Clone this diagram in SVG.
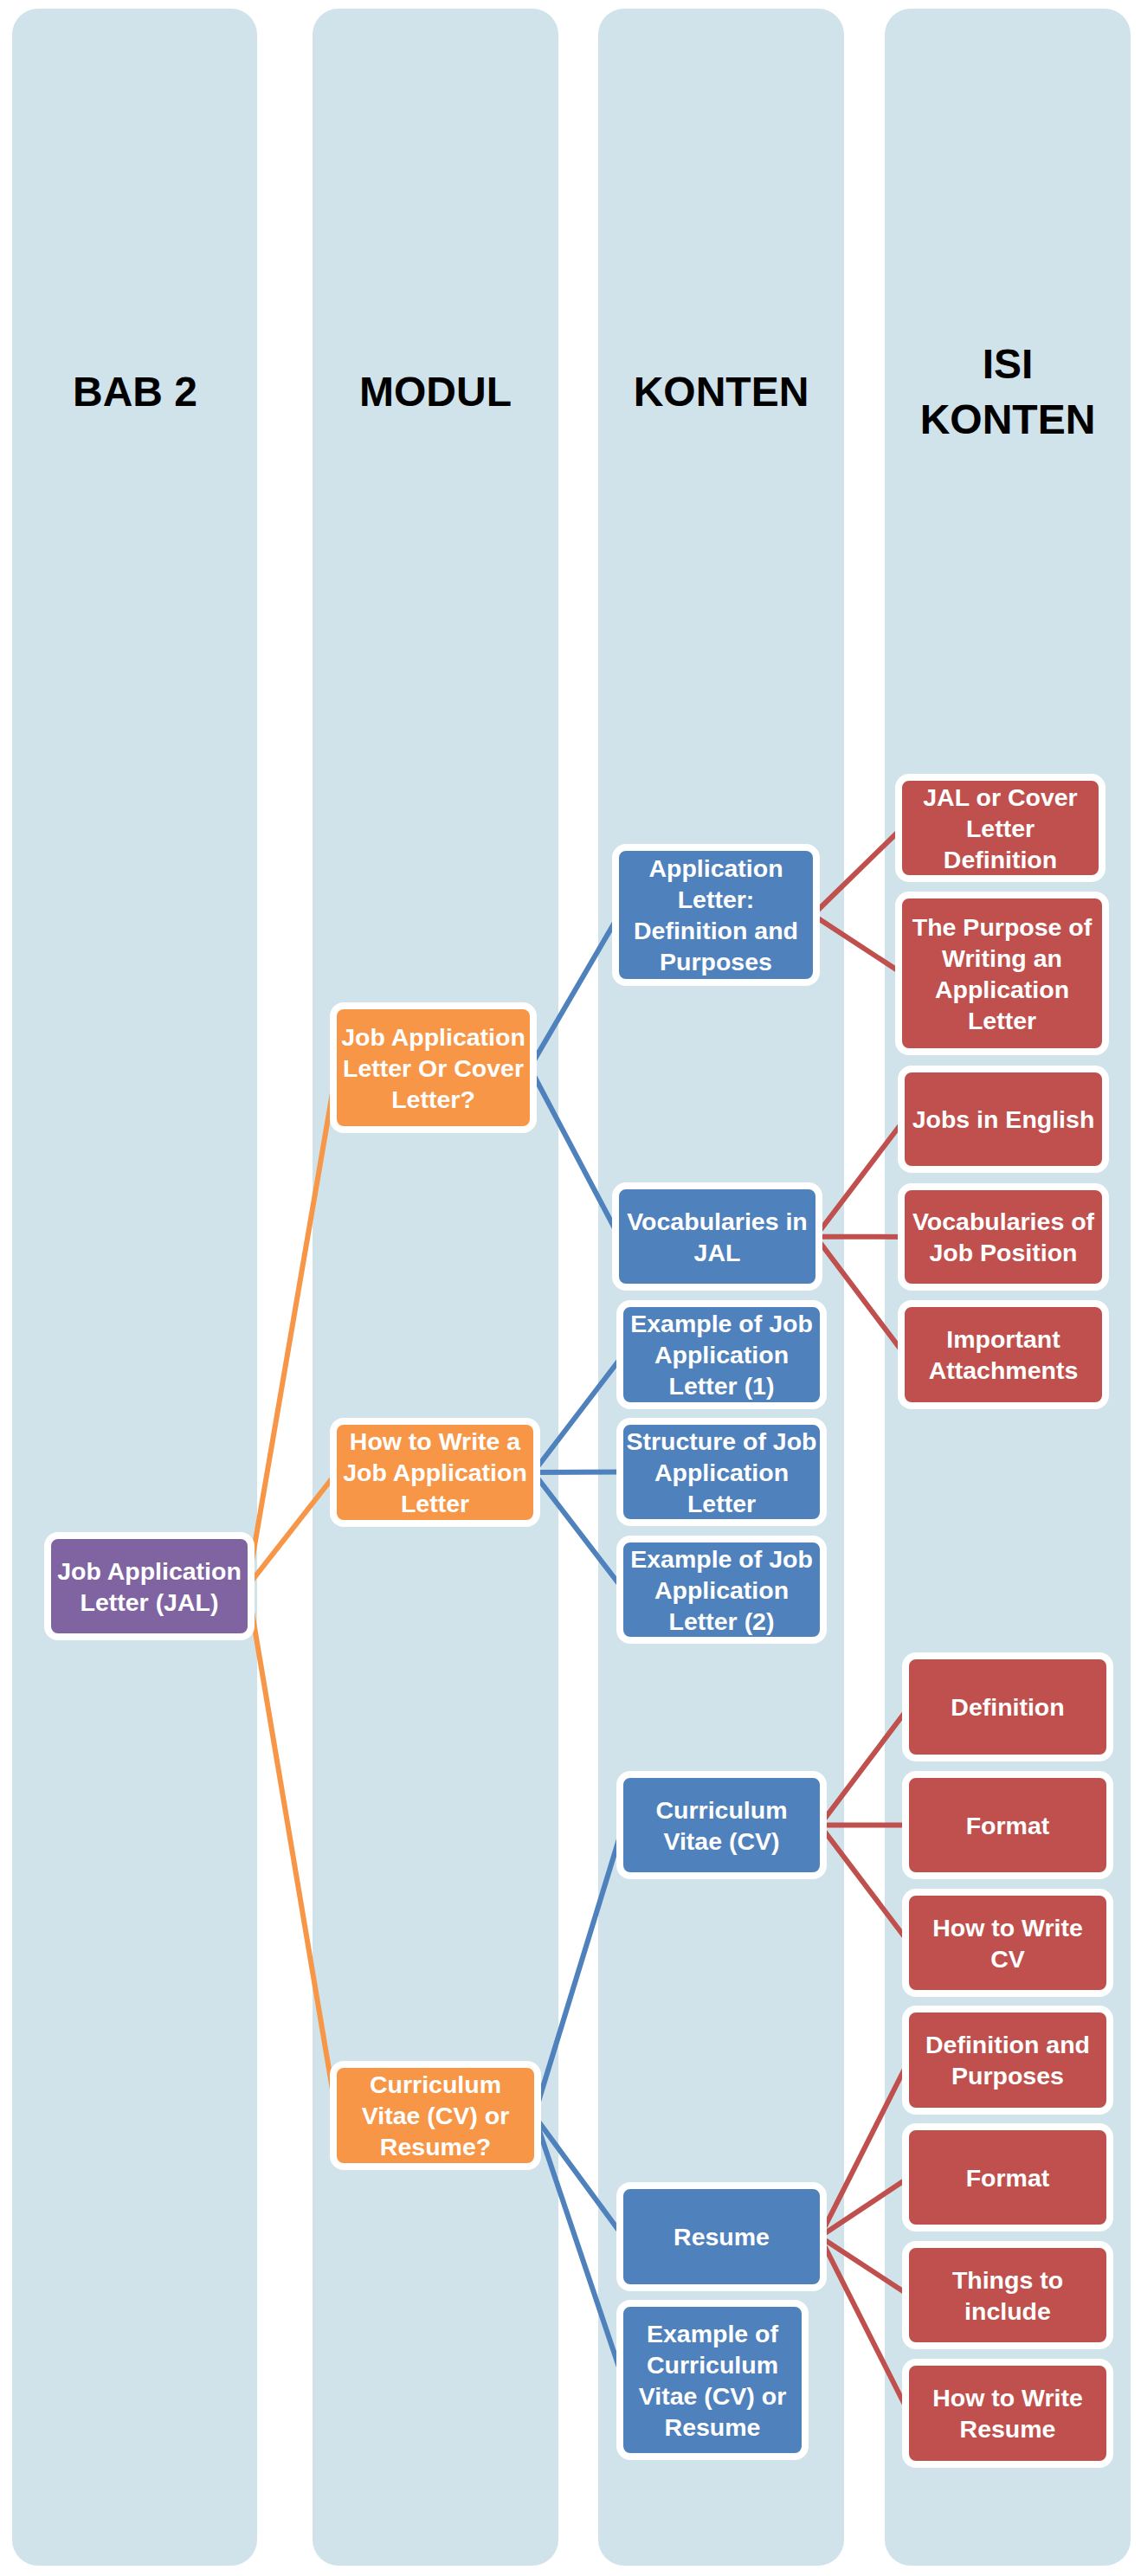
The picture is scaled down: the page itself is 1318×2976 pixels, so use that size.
<svg xmlns="http://www.w3.org/2000/svg" width="1318" height="2976" viewBox="0 0 1318 2976">
<style>
.col{fill:#D0E2EA}
.hdr{font-family:"Liberation Sans",Arial,sans-serif;font-weight:bold;font-size:48px;fill:#000;text-anchor:middle}
.nd rect{stroke:#fff;stroke-width:8}
.pu rect{fill:#8064A2}
.or rect{fill:#F79646}
.bl rect{fill:#4F81BD}
.rd rect{fill:#C0504D}
.nd text{font-family:"Liberation Sans",Arial,sans-serif;font-weight:bold;font-size:28.5px;fill:#fff;text-anchor:middle}
.c{fill:none;stroke-width:6;stroke-linecap:butt}
.co{stroke:#F79646}
.cb{stroke:#4F81BD}
.cr{stroke:#C0504D}
</style>
<rect width="1318" height="2976" fill="#fff"/>
<g id="columns">
<rect class="col" x="14" y="10" width="283" height="2954" rx="30"/>
<rect class="col" x="361" y="10" width="284" height="2954" rx="30"/>
<rect class="col" x="691" y="10" width="284" height="2954" rx="30"/>
<rect class="col" x="1022" y="10" width="284" height="2954" rx="30"/>
<text class="hdr" x="156" y="469">BAB 2</text>
<text class="hdr" x="503" y="469">MODUL</text>
<text class="hdr" x="833" y="469">KONTEN</text>
<text class="hdr" x="1164" y="437">ISI</text>
<text class="hdr" x="1164" y="501">KONTEN</text>
</g>
<g id="connectors">
<path class="c co" d="M286,1832.5 L389,1233.5 M286,1832.5 L389,1701 M286,1832.5 L389,2444"/>
<path class="c cb" d="M612,1233.5 L715,1057 M612,1233.5 L715,1428.5"/>
<path class="c cb" d="M616,1701 L720,1565 M616,1701 L720,1700.5 M616,1701 L720,1836.5"/>
<path class="c cb" d="M617,2444 L720,2108.5 M617,2444 L720,2584 M617,2444 L720,2749.5"/>
<path class="c cr" d="M939,1057 L1042,956.5 M939,1057 L1042,1124.5"/>
<path class="c cr" d="M942,1428.5 L1045,1293 M942,1428.5 L1045,1429 M942,1428.5 L1045,1565"/>
<path class="c cr" d="M947,2108.5 L1050,1972 M947,2108.5 L1050,2108.5 M947,2108.5 L1050,2244.5"/>
<path class="c cr" d="M947,2584 L1050,2380 M947,2584 L1050,2515.5 M947,2584 L1050,2651.5 M947,2584 L1050,2788"/>
</g>
<g id="n-jal" class="nd pu"><rect x="55" y="1774" width="235" height="117" rx="12"/><text x="172.5" y="1824.7">Job Application</text><text x="172.5" y="1860.7">Letter (JAL)</text></g>
<g id="n-mod1" class="nd or"><rect x="385" y="1162" width="231" height="143" rx="12"/><text x="500.5" y="1207.7">Job Application</text><text x="500.5" y="1243.7">Letter Or Cover</text><text x="500.5" y="1279.7">Letter?</text></g>
<g id="n-mod2" class="nd or"><rect x="385" y="1642" width="235" height="118" rx="12"/><text x="502.5" y="1675.2">How to Write a</text><text x="502.5" y="1711.2">Job Application</text><text x="502.5" y="1747.2">Letter</text></g>
<g id="n-mod3" class="nd or"><rect x="385" y="2385" width="236" height="118" rx="12"/><text x="503" y="2418.2">Curriculum</text><text x="503" y="2454.2">Vitae (CV) or</text><text x="503" y="2490.2">Resume?</text></g>
<g id="n-k1" class="nd bl"><rect x="711" y="979" width="232" height="156" rx="12"/><text x="827" y="1013.2">Application</text><text x="827" y="1049.2">Letter:</text><text x="827" y="1085.2">Definition and</text><text x="827" y="1121.2">Purposes</text></g>
<g id="n-k2" class="nd bl"><rect x="711" y="1370" width="235" height="117" rx="12"/><text x="828.5" y="1420.7">Vocabularies in</text><text x="828.5" y="1456.7">JAL</text></g>
<g id="n-k3" class="nd bl"><rect x="716" y="1506" width="235" height="118" rx="12"/><text x="833.5" y="1539.2">Example of Job</text><text x="833.5" y="1575.2">Application</text><text x="833.5" y="1611.2">Letter (1)</text></g>
<g id="n-k4" class="nd bl"><rect x="716" y="1642" width="235" height="117" rx="12"/><text x="833.5" y="1674.7">Structure of Job</text><text x="833.5" y="1710.7">Application</text><text x="833.5" y="1746.7">Letter</text></g>
<g id="n-k5" class="nd bl"><rect x="716" y="1778" width="235" height="117" rx="12"/><text x="833.5" y="1810.7">Example of Job</text><text x="833.5" y="1846.7">Application</text><text x="833.5" y="1882.7">Letter (2)</text></g>
<g id="n-k6" class="nd bl"><rect x="716" y="2050" width="235" height="117" rx="12"/><text x="833.5" y="2100.7">Curriculum</text><text x="833.5" y="2136.7">Vitae (CV)</text></g>
<g id="n-k7" class="nd bl"><rect x="716" y="2525" width="235" height="118" rx="12"/><text x="833.5" y="2594.2">Resume</text></g>
<g id="n-k8" class="nd bl"><rect x="716" y="2661" width="214" height="177" rx="12"/><text x="823" y="2705.7">Example of</text><text x="823" y="2741.7">Curriculum</text><text x="823" y="2777.7">Vitae (CV) or</text><text x="823" y="2813.7">Resume</text></g>
<g id="n-i1" class="nd rd"><rect x="1038" y="898" width="235" height="117" rx="12"/><text x="1155.5" y="930.7">JAL or Cover</text><text x="1155.5" y="966.7">Letter</text><text x="1155.5" y="1002.7">Definition</text></g>
<g id="n-i2" class="nd rd"><rect x="1038" y="1034" width="239" height="181" rx="12"/><text x="1157.5" y="1080.7">The Purpose of</text><text x="1157.5" y="1116.7">Writing an</text><text x="1157.5" y="1152.7">Application</text><text x="1157.5" y="1188.7">Letter</text></g>
<g id="n-i3" class="nd rd"><rect x="1041" y="1235" width="236" height="116" rx="12"/><text x="1159" y="1303.2">Jobs in English</text></g>
<g id="n-i4" class="nd rd"><rect x="1041" y="1371" width="236" height="116" rx="12"/><text x="1159" y="1421.2">Vocabularies of</text><text x="1159" y="1457.2">Job Position</text></g>
<g id="n-i5" class="nd rd"><rect x="1041" y="1506" width="236" height="118" rx="12"/><text x="1159" y="1557.2">Important</text><text x="1159" y="1593.2">Attachments</text></g>
<g id="n-i6" class="nd rd"><rect x="1046" y="1913" width="236" height="118" rx="12"/><text x="1164" y="1982.2">Definition</text></g>
<g id="n-i7" class="nd rd"><rect x="1046" y="2050" width="236" height="117" rx="12"/><text x="1164" y="2118.7">Format</text></g>
<g id="n-i8" class="nd rd"><rect x="1046" y="2186" width="236" height="117" rx="12"/><text x="1164" y="2236.7">How to Write</text><text x="1164" y="2272.7">CV</text></g>
<g id="n-i9" class="nd rd"><rect x="1046" y="2321" width="236" height="118" rx="12"/><text x="1164" y="2372.2">Definition and</text><text x="1164" y="2408.2">Purposes</text></g>
<g id="n-i10" class="nd rd"><rect x="1046" y="2457" width="236" height="117" rx="12"/><text x="1164" y="2525.7">Format</text></g>
<g id="n-i11" class="nd rd"><rect x="1046" y="2593" width="236" height="117" rx="12"/><text x="1164" y="2643.7">Things to</text><text x="1164" y="2679.7">include</text></g>
<g id="n-i12" class="nd rd"><rect x="1046" y="2729" width="236" height="118" rx="12"/><text x="1164" y="2780.2">How to Write</text><text x="1164" y="2816.2">Resume</text></g>
</svg>
